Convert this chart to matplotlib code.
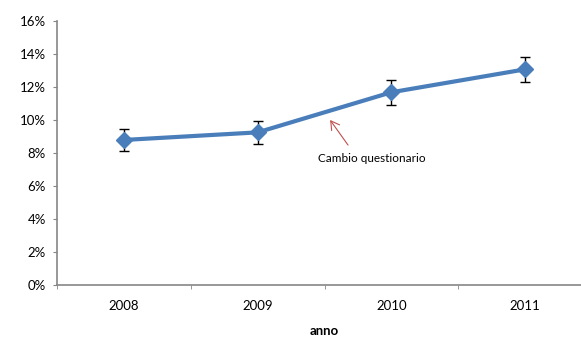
import matplotlib.pyplot as plt
import numpy as np

# tasso per anno, con barre d'errore
anni = ["2008", "2009", "2010", "2011"]
valori = [8.79, 9.25, 11.68, 13.07]
errori = [0.66, 0.71, 0.76, 0.76]

plt.rcParams['font.family'] = ['Lato', 'DejaVu Sans']

fig = plt.figure(figsize=(5.81, 3.38), dpi=100)
# l'asse x continua oltre il bordo destro, come nell'originale
ax = fig.add_axes([57 / 581, 53 / 338, 535 / 581, 264 / 338])

x = np.arange(len(anni))
ax.errorbar(x, valori, yerr=errori, color='#4a7ebb', lw=3, marker='D', ms=8.5,
            ecolor='black', elinewidth=1, capsize=3.5, capthick=1, zorder=3)

ax.set_xlim(-0.5, len(anni) - 0.5)
ax.set_ylim(0, 16)
ax.set_yticks(np.arange(0, 17, 2))
ax.set_yticklabels([f"{v}%" for v in range(0, 17, 2)], fontsize=9.5)
ax.set_xticks(x)
ax.set_xticklabels(anni, fontsize=9.5)
ax.set_xticks(np.arange(-0.5, len(anni)), minor=True)
ax.tick_params(axis='x', which='major', length=0, pad=11)
ax.tick_params(axis='x', which='minor', length=3, color='#868686')
ax.tick_params(axis='y', length=3, color='#868686', pad=5)

for s in ['top', 'right']:
    ax.spines[s].set_visible(False)
for s in ['left', 'bottom']:
    ax.spines[s].set_color('#868686')
    ax.spines[s].set_linewidth(1.2)

ax.set_xlabel("anno", fontsize=9.5, fontweight='bold', labelpad=9)

ax.text(1.452, 7.64, "Cambio questionario", fontsize=8.5, ha='left', va='center')
ax.annotate("", xy=(1.542, 10.0), xytext=(1.676, 8.48),
            arrowprops=dict(arrowstyle='->,head_length=0.6,head_width=0.35',
                            color='#c0504d', lw=0.8, shrinkA=0, shrinkB=0))

fig.savefig("out.png", dpi=100)
